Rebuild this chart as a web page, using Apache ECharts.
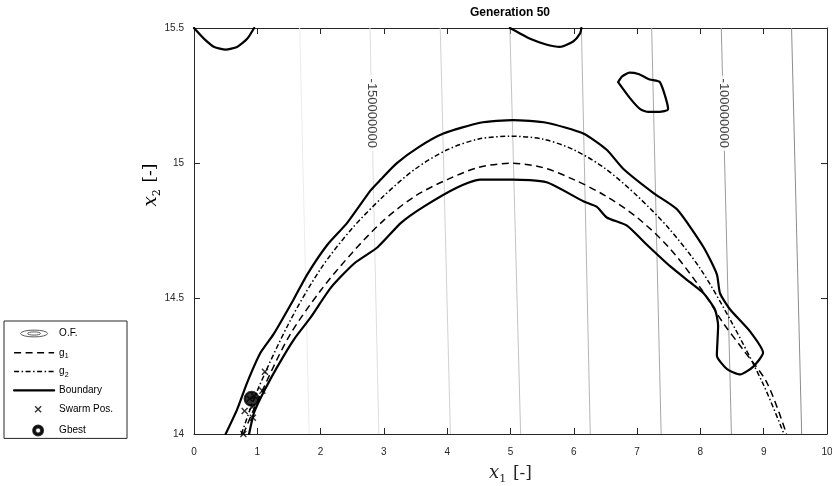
<!DOCTYPE html>
<html>
<head>
<meta charset="utf-8">
<script src="https://cdn.jsdelivr.net/npm/echarts@6/dist/echarts.min.js"></script>
<style>
  html, body { margin: 0; padding: 0; background: #fff; }
  #chart { width: 832px; height: 486px; }
</style>
</head>
<body>
<div id="chart"></div>
<script>
// ---- axis ranges ----
const x1Range = [0, 10];
const x2Range = [14, 15.5];

// ---- objective-function iso-lines: level and x1 where each line meets x2 = 15.5 (top) and x2 = 14 (bottom) ----
const ofLevels   = [-160000000, -150000000, -140000000, -130000000, -120000000, -110000000, -100000000, -90000000];
const ofTopX     = [1.67, 2.78, 3.89, 4.99, 6.12, 7.23, 8.33, 9.44];
const ofBottomX  = [1.82, 2.92, 4.05, 5.16, 6.26, 7.38, 8.49, 9.60];
const ofLabelLevels = [-150000000, -100000000];
const ofLabelX2 = 15.185;

// ---- constraint g1 (dashed) ----
const g1X = [0.78, 1.0, 1.5, 2.0, 2.5, 3.0, 3.5, 4.0, 4.5, 5.0, 5.5, 6.0, 6.5, 7.0, 7.5, 8.0, 8.36, 8.68, 9.05, 9.36];
const g1Y = [14.0, 14.12, 14.36, 14.53, 14.67, 14.79, 14.88, 14.94, 14.985, 15.0, 14.985, 14.94, 14.88, 14.80, 14.69, 14.54, 14.41, 14.31, 14.19, 14.0];

// ---- constraint g2 (dash-dot) ----
const g2X = [0.75, 1.0, 1.5, 2.0, 2.5, 3.0, 3.5, 4.0, 4.5, 5.0, 5.5, 6.0, 6.5, 7.0, 7.5, 8.0, 8.5, 9.0, 9.32];
const g2Y = [14.0, 14.16, 14.41, 14.61, 14.76, 14.88, 14.98, 15.05, 15.09, 15.10, 15.09, 15.05, 14.98, 14.88, 14.76, 14.61, 14.41, 14.18, 14.0];

// ---- feasible-region boundary: main band (upper edge, right cap, lower edge) ----
const bandX = [0.50, 0.68, 0.84, 1.05, 1.26, 1.58, 1.79, 2.11, 2.42, 2.79, 2.95, 3.20, 3.55, 3.94, 4.52, 5.04, 5.57, 6.15, 6.52, 6.78, 7.26, 7.63, 8.05, 8.26, 8.31, 8.47, 8.78, 8.99, 8.84, 8.63, 8.42, 8.26, 8.28, 8.23, 8.05, 7.84, 7.52, 7.15, 6.84, 6.52, 6.36, 6.15, 5.57, 5.04, 4.52, 4.15, 3.63, 3.27, 2.90, 2.53, 2.16, 1.84, 1.58, 1.32, 1.11, 0.95, 0.87];
const bandY = [14.0, 14.09, 14.19, 14.30, 14.37, 14.50, 14.59, 14.70, 14.78, 14.90, 14.94, 15.0, 15.06, 15.11, 15.15, 15.16, 15.15, 15.11, 15.05, 14.98, 14.89, 14.83, 14.69, 14.59, 14.52, 14.46, 14.38, 14.30, 14.25, 14.22, 14.24, 14.29, 14.40, 14.46, 14.52, 14.56, 14.62, 14.70, 14.77, 14.80, 14.84, 14.86, 14.93, 14.94, 14.94, 14.91, 14.84, 14.78, 14.69, 14.63, 14.54, 14.43, 14.35, 14.25, 14.16, 14.08, 14.0];
// small boundary pieces along the top edge
const capLeftX = [0.0, 0.16, 0.32, 0.50, 0.68, 0.84, 0.95];
const capLeftY = [15.5, 15.46, 15.43, 15.42, 15.43, 15.46, 15.5];
const capMidX = [4.99, 5.15, 5.31, 5.55, 5.78, 5.99, 6.10, 6.12];
const capMidY = [15.5, 15.48, 15.46, 15.44, 15.43, 15.45, 15.48, 15.5];
const islandX = [6.70, 6.76, 6.88, 7.02, 7.20, 7.36, 7.49, 7.35, 7.18, 7.05, 6.89, 6.70];
const islandY = [15.30, 15.32, 15.335, 15.33, 15.31, 15.30, 15.20, 15.19, 15.19, 15.20, 15.24, 15.30];

// ---- particle swarm ----
const swarmX = [0.78, 0.80, 0.93, 1.08, 0.92, 0.88, 0.95, 1.12];
const swarmY = [14.0, 14.085, 14.06, 14.16, 14.10, 14.13, 14.14, 14.23];
const gbestX = [0.91];
const gbestY = [14.13];

const zip = (xs, ys) => xs.map((x, i) => [x, ys[i]]);

// marker / legend glyphs
const CROSS = 'path://M0,1.5L1.5,0L5,3.5L8.5,0L10,1.5L6.5,5L10,8.5L8.5,10L5,6.5L1.5,10L0,8.5L3.5,5Z';
// legend icons are drawn inside a 40x14 box (corner moves fix the box)
const ICON_OF = 'path://M0,0M40,14M6.5,7A13.5,3.4 0 1,1 33.5,7A13.5,3.4 0 1,1 6.5,7ZM13.5,7A6.5,1.6 0 1,1 26.5,7A6.5,1.6 0 1,1 13.5,7Z';
const ICON_CROSS = 'path://M0,0M40,14M20.5,4.5L21.5,3.5L24,6L26.5,3.5L27.5,4.5L25,7L27.5,9.5L26.5,10.5L24,8L21.5,10.5L20.5,9.5L23,7Z';
const ICON_RING = 'path://M0,0M40,14M19,7A5,5 0 1,1 29,7A5,5 0 1,1 19,7ZM21,7A3,3 0 1,0 27,7A3,3 0 1,0 21,7Z';

const AX = '#262626';
const SANS = '"Liberation Sans", Arial, Helvetica, sans-serif';
const SERIF = '"DejaVu Serif", serif';

const ofSeries = ofLevels.map((lv, i) => {
  const g = Math.round(236 - i * (236 - 140) / (ofLevels.length - 1));
  return {
    type: 'line', name: 'O.F.',
    data: [[ofTopX[i], x2Range[1]], [ofBottomX[i], x2Range[0]]],
    symbol: 'none', silent: true, z: 1,
    lineStyle: { color: `rgb(${g},${g},${g})`, width: 1 }
  };
});

const ofLabelData = ofLabelLevels.map(lv => {
  const i = ofLevels.indexOf(lv);
  const t = (x2Range[1] - ofLabelX2) / (x2Range[1] - x2Range[0]);
  return [ofTopX[i] + (ofBottomX[i] - ofTopX[i]) * t, ofLabelX2, lv];
});

const boundaryStyle = { color: '#000', width: 2.2, join: 'round', cap: 'round' };
const boundary = (xs, ys) => ({
  type: 'line', name: 'Boundary', data: zip(xs, ys), symbol: 'none', smooth: 0.2, z: 5,
  lineStyle: boundaryStyle, itemStyle: { color: '#000' }
});

const rich = {
  i: { fontFamily: SERIF, fontStyle: 'italic', fontSize: 18, color: AX },
  s: { fontFamily: SERIF, fontSize: 11, color: AX, verticalAlign: 'bottom', padding: [12, 0, 0, 0] },
  n: { fontFamily: SERIF, fontSize: 17, color: AX }
};

// legend entries drawn as plain lines (no point symbol)
const lineIcon = { icon: 'inherit', itemStyle: { color: 'rgba(0,0,0,0)', borderWidth: 0 } };

const chart = echarts.init(document.getElementById('chart'), null, { renderer: 'canvas' });
chart.setOption({
  animation: false,
  backgroundColor: '#fff',
  title: {
    text: 'Generation 50', left: 505, top: 2, textAlign: 'center',
    textStyle: { fontFamily: SANS, fontSize: 12, fontWeight: 'bold', color: '#000' }
  },
  grid: { left: 194, top: 28, width: 633, height: 406, containLabel: false, outerBoundsMode: 'none' },
  legend: {
    orient: 'vertical', left: 4, top: 321,
    padding: [5, 14, 0, 9], itemGap: 6.2, itemWidth: 40, itemHeight: 14,
    borderColor: AX, borderWidth: 1, backgroundColor: '#fff',
    selectedMode: false,
    textStyle: {
      fontFamily: SANS, fontSize: 10, color: '#000',
      rich: { sub: { fontFamily: SANS, fontSize: 7, color: '#000', verticalAlign: 'bottom', padding: [7, 0, 0, 0] } }
    },
    formatter: name => name === 'g1' ? 'g{sub|1}' : name === 'g2' ? 'g{sub|2}' : name,
    data: [
      { name: 'O.F.', icon: ICON_OF, itemStyle: { color: 'rgba(0,0,0,0)', borderColor: '#5a5a5a', borderWidth: 1 } },
      Object.assign({ name: 'g1', lineStyle: { width: 1.5 } }, lineIcon),
      Object.assign({ name: 'g2', lineStyle: { width: 1.5 } }, lineIcon),
      Object.assign({ name: 'Boundary', lineStyle: { width: 2.2 } }, lineIcon),
      { name: 'Swarm Pos.', icon: ICON_CROSS },
      { name: 'Gbest', icon: ICON_RING }
    ]
  },
  xAxis: [
    {
      type: 'value', min: x1Range[0], max: x1Range[1], interval: 1, position: 'bottom',
      axisLine: { show: true, onZero: false, lineStyle: { color: AX, width: 1 } },
      axisTick: { show: true, inside: true, length: 6, lineStyle: { color: AX } },
      axisLabel: { color: AX, fontSize: 10, fontFamily: SANS, margin: 13 },
      splitLine: { show: false },
      name: '{i|x}{s|1}  {n|[-]}', nameLocation: 'middle', nameGap: 28,
      nameTextStyle: { rich }
    },
    {
      type: 'value', min: x1Range[0], max: x1Range[1], interval: 1, position: 'top',
      axisLine: { show: true, onZero: false, lineStyle: { color: AX, width: 1 } },
      axisTick: { show: true, inside: true, length: 6, lineStyle: { color: AX } },
      axisLabel: { show: false }, splitLine: { show: false }
    }
  ],
  yAxis: [
    {
      type: 'value', min: x2Range[0], max: x2Range[1], interval: 0.5, position: 'left',
      axisLine: { show: true, onZero: false, lineStyle: { color: AX, width: 1 } },
      axisTick: { show: true, inside: true, length: 6, lineStyle: { color: AX } },
      axisLabel: { color: AX, fontSize: 10, fontFamily: SANS, margin: 10 },
      splitLine: { show: false }
    },
    {
      type: 'value', min: x2Range[0], max: x2Range[1], interval: 0.5, position: 'right',
      axisLine: { show: true, onZero: false, lineStyle: { color: AX, width: 1 } },
      axisTick: { show: true, inside: true, length: 6, lineStyle: { color: AX } },
      axisLabel: { show: false }, splitLine: { show: false }
    }
  ],
  graphic: [{
    type: 'text', x: 151, y: 185, rotation: Math.PI / 2, z: 100,
    style: { text: '{i|x}{s|2}  {n|[-]}', rich, align: 'center', verticalAlign: 'middle' }
  }],
  series: [
    ...ofSeries,
    {
      type: 'scatter', name: 'O.F. level', data: ofLabelData, symbolSize: 1, z: 2, silent: true,
      itemStyle: { color: 'rgba(0,0,0,0)' },
      label: {
        show: true, position: 'inside', rotate: -90,
        formatter: p => String(p.value[2]),
        fontFamily: SANS, fontSize: 13, color: '#111',
        backgroundColor: '#fff', padding: [2, 3]
      }
    },
    {
      type: 'line', name: 'g1', data: zip(g1X, g1Y), symbol: 'none', smooth: 0.3, z: 3,
      itemStyle: { color: '#000' },
      lineStyle: { color: '#000', width: 1.5, type: [7, 4.5] }
    },
    {
      type: 'line', name: 'g2', data: zip(g2X, g2Y), symbol: 'none', smooth: 0.3, z: 3,
      itemStyle: { color: '#000' },
      lineStyle: { color: '#000', width: 1.5, type: [5, 2.5, 1.5, 2.5] }
    },
    boundary(bandX, bandY),
    boundary(capLeftX, capLeftY),
    boundary(capMidX, capMidY),
    boundary(islandX, islandY),
    {
      type: 'scatter', name: 'Swarm Pos.', data: zip(swarmX, swarmY), symbol: CROSS, symbolSize: 7, z: 6,
      itemStyle: { color: '#000' }
    },
    {
      type: 'scatter', name: 'Gbest', data: zip(gbestX, gbestY), symbol: 'circle', symbolSize: 14, z: 7,
      itemStyle: { color: '#000', borderColor: '#000', borderWidth: 2 }
    }
  ]
});
</script>
</body>
</html>
